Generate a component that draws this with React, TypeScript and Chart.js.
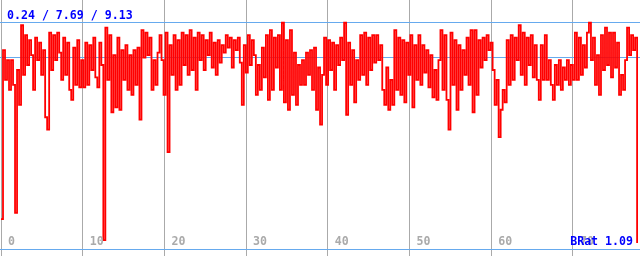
import React, { useEffect, useRef } from "react";
import { Chart, registerables } from "chart.js";

Chart.register(...registerables);

// Summary statistics shown in the header and as reference lines
const MIN_VALUE = 0.24;
const AVG_VALUE = 7.69;
const MAX_VALUE = 9.13;
const BRAT_VALUE = 1.09;

// X-axis ticks
const TICK_VALUES = [0, 10, 20, 30, 40, 50, 60, 70];
const TICK_LABELS = ["0", "10", "20", "30", "40", "50", "60", "70"];

// Sample spacing along the x axis (one reading every SAMPLE_STEP units)
const SAMPLE_STEP = 0.2456;

// Readings, split by x-range
const SEG_00_10 = [1.2, 8.0, 6.8, 7.6, 6.4, 7.6, 6.6, 1.45, 7.2, 5.8, 9.0, 7.0, 8.6, 7.4, 8.4, 7.8, 6.4, 8.5, 7.6, 8.3, 7.0, 8.0, 5.3, 4.8, 8.7, 7.2, 8.6, 7.6, 8.7, 7.9, 6.8, 8.5, 7.0, 8.3, 6.4, 6.0, 8.1, 6.6, 8.4, 6.5];
const SEG_10_20 = [7.6, 6.5, 8.3, 6.6, 8.2, 7.2, 8.5, 6.9, 6.5, 8.3, 7.4, 0.36, 8.9, 6.8, 8.6, 5.5, 7.8, 5.7, 8.5, 5.6, 8.0, 6.8, 8.2, 6.4, 7.8, 6.2, 8.0, 6.6, 8.1, 5.2, 8.8, 7.7, 8.7, 7.8, 8.5, 6.4, 7.6, 6.6, 7.9, 8.6];
const SEG_20_30 = [7.6, 6.2, 8.7, 3.9, 8.2, 7.0, 8.6, 6.4, 8.4, 6.6, 8.7, 7.4, 8.6, 7.0, 8.8, 7.2, 8.5, 6.4, 8.7, 7.6, 8.6, 7.2, 8.4, 7.8, 8.7, 7.3, 8.3, 7.0, 8.4, 7.5, 8.2, 7.9, 8.6, 8.1, 8.5, 7.3, 8.4, 8.0, 8.5, 7.5];
const SEG_30_40 = [5.8, 8.2, 7.1, 8.6, 7.4, 8.4, 7.8, 6.2, 7.4, 6.4, 8.1, 6.9, 8.6, 6.0, 8.8, 6.4, 8.5, 7.3, 8.6, 6.4, 9.1, 5.9, 8.4, 5.6, 8.8, 6.2, 7.9, 5.8, 7.4, 6.6, 7.6, 6.6, 7.9, 7.0, 8.0, 6.4, 8.1, 5.6, 7.3, 5.0];
const SEG_40_50 = [7.0, 8.5, 6.6, 8.4, 7.2, 8.3, 6.4, 8.2, 7.4, 8.5, 7.6, 9.1, 5.4, 8.3, 6.6, 8.0, 5.9, 7.6, 6.8, 8.6, 7.0, 8.7, 6.6, 8.5, 7.2, 8.6, 7.5, 8.6, 7.6, 8.2, 6.4, 5.8, 7.3, 5.6, 6.8, 5.8, 8.8, 6.4, 8.5, 6.2];
const SEG_50_60 = [8.4, 5.9, 8.3, 7.0, 8.6, 5.7, 8.2, 6.8, 8.6, 6.6, 8.2, 7.1, 8.0, 6.5, 7.8, 6.1, 7.2, 6.0, 7.6, 8.8, 6.4, 8.6, 6.0, 4.8, 8.7, 6.6, 8.4, 5.6, 8.2, 6.4, 8.0, 7.0, 8.5, 6.6, 8.8, 5.5, 8.8, 6.2, 8.4, 7.3];
const SEG_60_70 = [8.5, 7.6, 8.6, 8.0, 8.3, 7.2, 5.8, 6.8, 4.5, 5.6, 6.4, 5.9, 8.4, 6.6, 8.6, 6.8, 8.5, 7.6, 9.0, 7.0, 8.7, 6.6, 8.5, 7.4, 8.6, 6.9, 8.2, 6.8, 6.0, 8.2, 6.8, 8.6, 6.8, 7.6, 6.6, 6.0, 7.4, 6.6, 7.6, 6.4];
const SEG_70_78 = [7.3, 6.8, 7.6, 6.6, 7.4, 6.8, 8.7, 6.8, 8.5, 7.0, 8.2, 7.3, 8.7, 9.1, 7.6, 8.5, 6.6, 7.8, 6.2, 8.6, 7.2, 8.9, 7.4, 8.7, 6.9, 8.7, 7.3, 8.3, 6.2, 7.0, 6.4, 7.6, 8.9, 7.8, 8.6, 8.0, 8.5, 0.24];

const READINGS = [
  ...SEG_00_10,
  ...SEG_10_20,
  ...SEG_20_30,
  ...SEG_30_40,
  ...SEG_40_50,
  ...SEG_50_60,
  ...SEG_60_70,
  ...SEG_70_78,
];

const FONT = "bold 11.6px 'DejaVu Sans Mono', monospace";

const overlayText = {
  id: "overlayText",
  afterDraw(chart: any) {
    const { ctx, chartArea, scales } = chart;
    ctx.save();
    ctx.font = FONT;
    ctx.textBaseline = "alphabetic";
    ctx.textAlign = "left";
    ctx.fillStyle = "#aaaaaa";
    TICK_VALUES.forEach((v, i) => {
      ctx.fillText(TICK_LABELS[i], scales.x.getPixelForValue(v) + 7, chartArea.bottom - 11);
    });
    ctx.fillStyle = "#0000ff";
    ctx.fillText(
      `${MIN_VALUE.toFixed(2)} / ${AVG_VALUE.toFixed(2)} / ${MAX_VALUE.toFixed(2)}`,
      chartArea.left + 7,
      chartArea.top + 19
    );
    ctx.textAlign = "right";
    ctx.fillText(`BRat ${BRAT_VALUE.toFixed(2)}`, chartArea.right - 7, chartArea.bottom - 11);
    ctx.restore();
  },
};

export default function App() {
  const ref = useRef<HTMLCanvasElement | null>(null);

  useEffect(() => {
    if (!ref.current) return;
    const data = READINGS.map((y, i) => ({ x: i * SAMPLE_STEP, y }));
    const chart = new Chart(ref.current, {
      type: "line",
      data: {
        datasets: [
          {
            data,
            borderColor: "#ff0000",
            borderWidth: 1.8,
            pointRadius: 0,
            stepped: true,
            fill: false,
          },
        ],
      },
      options: {
        animation: false,
        responsive: false,
        devicePixelRatio: 1,
        layout: { padding: 0 },
        plugins: { legend: { display: false }, tooltip: { enabled: false } },
        scales: {
          x: {
            type: "linear",
            min: -0.1224,
            max: 78.21,
            z: 1,
            afterBuildTicks: (s: any) => {
              s.ticks = TICK_VALUES.map((value) => ({ value }));
            },
            ticks: { display: false },
            grid: { color: "#aaaaaa", lineWidth: 1, drawTicks: false },
            border: { display: false },
          },
          y: {
            type: "linear",
            min: -0.2815,
            max: 10.015,
            z: 1,
            afterBuildTicks: (s: any) => {
              s.ticks = [0, AVG_VALUE, MAX_VALUE].map((value) => ({ value }));
            },
            ticks: { display: false },
            grid: { color: "#66aaee", lineWidth: 1, drawTicks: false },
            border: { display: false },
          },
        },
      },
      plugins: [overlayText],
    });
    return () => chart.destroy();
  }, []);

  return (
    <div style={{ position: "fixed", left: 0, top: 0, width: 640, height: 256, background: "#fff" }}>
      <canvas ref={ref} width={640} height={256} style={{ display: "block" }} />
    </div>
  );
}
